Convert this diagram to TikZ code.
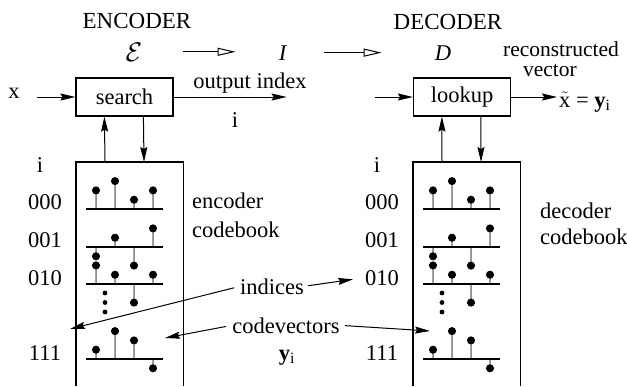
\documentclass[tikz,border=0pt]{standalone}
\usepackage{fontspec}
\setmainfont{Liberation Serif}
\usetikzlibrary{positioning, arrows.meta, calc}
\tikzset{
  txt/.style={font=\fontsize{22.5}{24}\selectfont, inner sep=0pt},
  box/.style={draw, line width=1.2pt, minimum width=97pt, minimum height=38pt, inner sep=0pt, font=\fontsize{22.5}{24}\selectfont},
  cbook/.style={draw=none, minimum width=107pt, minimum height=224pt, inner sep=0pt, anchor=north west},
  arr/.style={-{Stealth[length=15pt,width=7pt,inset=2pt]}, line width=1pt},
  openarr/.style={-{Triangle[open,length=18pt,width=8pt]}, line width=1pt},
  stem/.style={line width=0.8pt},
}

\begin{document}
\begin{tikzpicture}[x=1pt, y=-1pt]
  \useasboundingbox (0,0) rectangle (627,386);

  % --- ENCODER / DECODER titles ---
  \node[txt, font=\fontsize{23}{24}\selectfont, anchor=base] (enc) at (137,28) {ENCODER};
  \node[txt, anchor=base] (calE) at (134,61) {\scalebox{1.3}{$\mathcal{E}$}};
  \node[txt, anchor=base] (calI) at (283,60) {\textit{I}};
  \node[txt, font=\fontsize{23}{24}\selectfont, anchor=base] (dec) at (448,29) {DECODER};
  \node[txt, anchor=base] (calD) at (443,60) {\textit{D}};
  \draw[openarr, shorten <=40pt, shorten >=43pt] (calE.east) -- (calE.east -| calI.west);
  \draw[openarr, shorten <=37pt, shorten >=53pt] (calI.east) -- (calI.east -| calD.west);

  % --- search / lookup boxes ---
  \node[box] (search) at (124.5,97) {search};
  \node[box] (lookup) at (462,97) {lookup};

  % Encoder input and output
  \node[txt, anchor=base] (xin) at (14,98) {x};
  \draw[arr] ([xshift=-38pt]search.west) -- (search.west);
  \draw[arr] (search.east) -- ++(113,0);
  \node[txt, anchor=base] (outidx) at (250,88) {output index};
  \node[txt, anchor=base] (iout) at (235,127) {i};

  % Decoder input and output
  \draw[arr] ([xshift=-38pt]lookup.west) -- (lookup.west);
  \draw[arr] (lookup.east) -- ++(46,0);
  \node[txt, anchor=base west] (xhat) at (559,107) {$\tilde{\mbox{x}}$ = \textbf{y}\textsubscript{i}};
  \node[txt, font=\fontsize{21.5}{24}\selectfont, anchor=base] (recon) at (561,56) {reconstructed};
  \node[txt, font=\fontsize{21.5}{24}\selectfont, anchor=base] (vect) at (550,76) {vector};

  % --- codebooks ---
  \node[cbook] (enccb) at (76,162) {};
  \node[cbook] (deccb) at (413,162) {};
  \foreach \cb/\bx in {enccb/search, deccb/lookup} {
    \draw[line width=1.2pt] (\cb.south west) |- (\cb.north east) -- (\cb.south east);
    \draw[arr] ([xshift=29pt]\cb.north west) -- ([xshift=29pt]\bx.south west);
    \draw[arr] ([xshift=68pt]\bx.south west) -- ([xshift=68pt]\cb.north west);
  }

  % Index labels
  \foreach \off/\nm in {0/enc, 337/dec} {
    \node[txt, anchor=base] (\nm-i) at (40+\off,172) {i};
    \node[txt, anchor=base] (\nm-000) at (45+\off,209) {000};
    \node[txt, anchor=base] (\nm-001) at (45+\off,247) {001};
    \node[txt, anchor=base] (\nm-010) at (45+\off,285) {010};
    \node[txt, anchor=base] (\nm-111) at (45+\off,360) {111};
  }

  % Codevectors as stems
  \foreach \off in {0,337} {
    \foreach \yb/\va/\vb/\vc/\vd in {209/2/3/1/2, 247/-1/1/-2/2, 284/2/1/-2/1, 359/1/3/2/-1} {
      \draw[line width=1.2pt] (86+\off,\yb) -- (163+\off,\yb);
      \foreach \k/\v in {1/\va, 2/\vb, 3/\vc, 4/\vd}
        \filldraw[stem] (77+19*\k+\off,\yb) -- ++(0,{-9.3*(\v)}) circle[radius=3.6pt];
    }
    \foreach \yd in {293,302.5,312}
      \fill (105+\off,\yd) circle[radius=2.4pt];
  }

  % Codebook labels
  \node[txt, anchor=base west] (enclbl) at (192,208) {encoder};
  \node[txt, anchor=base west] (enccbl) at (192,237) {codebook};
  \node[txt, anchor=base west] (declbl) at (540,218) {decoder};
  \node[txt, anchor=base west] (deccbl) at (540,244) {codebook};

  % --- indices and codevectors ---
  \node[txt, anchor=base] (indices) at (272,294) {indices};
  \node[txt, anchor=base] (codevec) at (286,333) {codevectors};
  \node[txt, anchor=base] (yi) at (287,360) {\textbf{y}\textsubscript{i}};
  \coordinate (idxA) at (70,329);
  \coordinate (cvA) at (165,338);
  \coordinate (cvB) at (430,331);
  \draw[arr, shorten <=6pt] (indices.west) -- (idxA);
  \draw[arr, shorten <=4pt, shorten >=12pt] (indices.east) -- (dec-010.west);
  \draw[arr, shorten <=6pt] (codevec.west) -- (cvA);
  \draw[arr, shorten <=5pt] (codevec.east) -- (cvB);
\end{tikzpicture}
\end{document}
